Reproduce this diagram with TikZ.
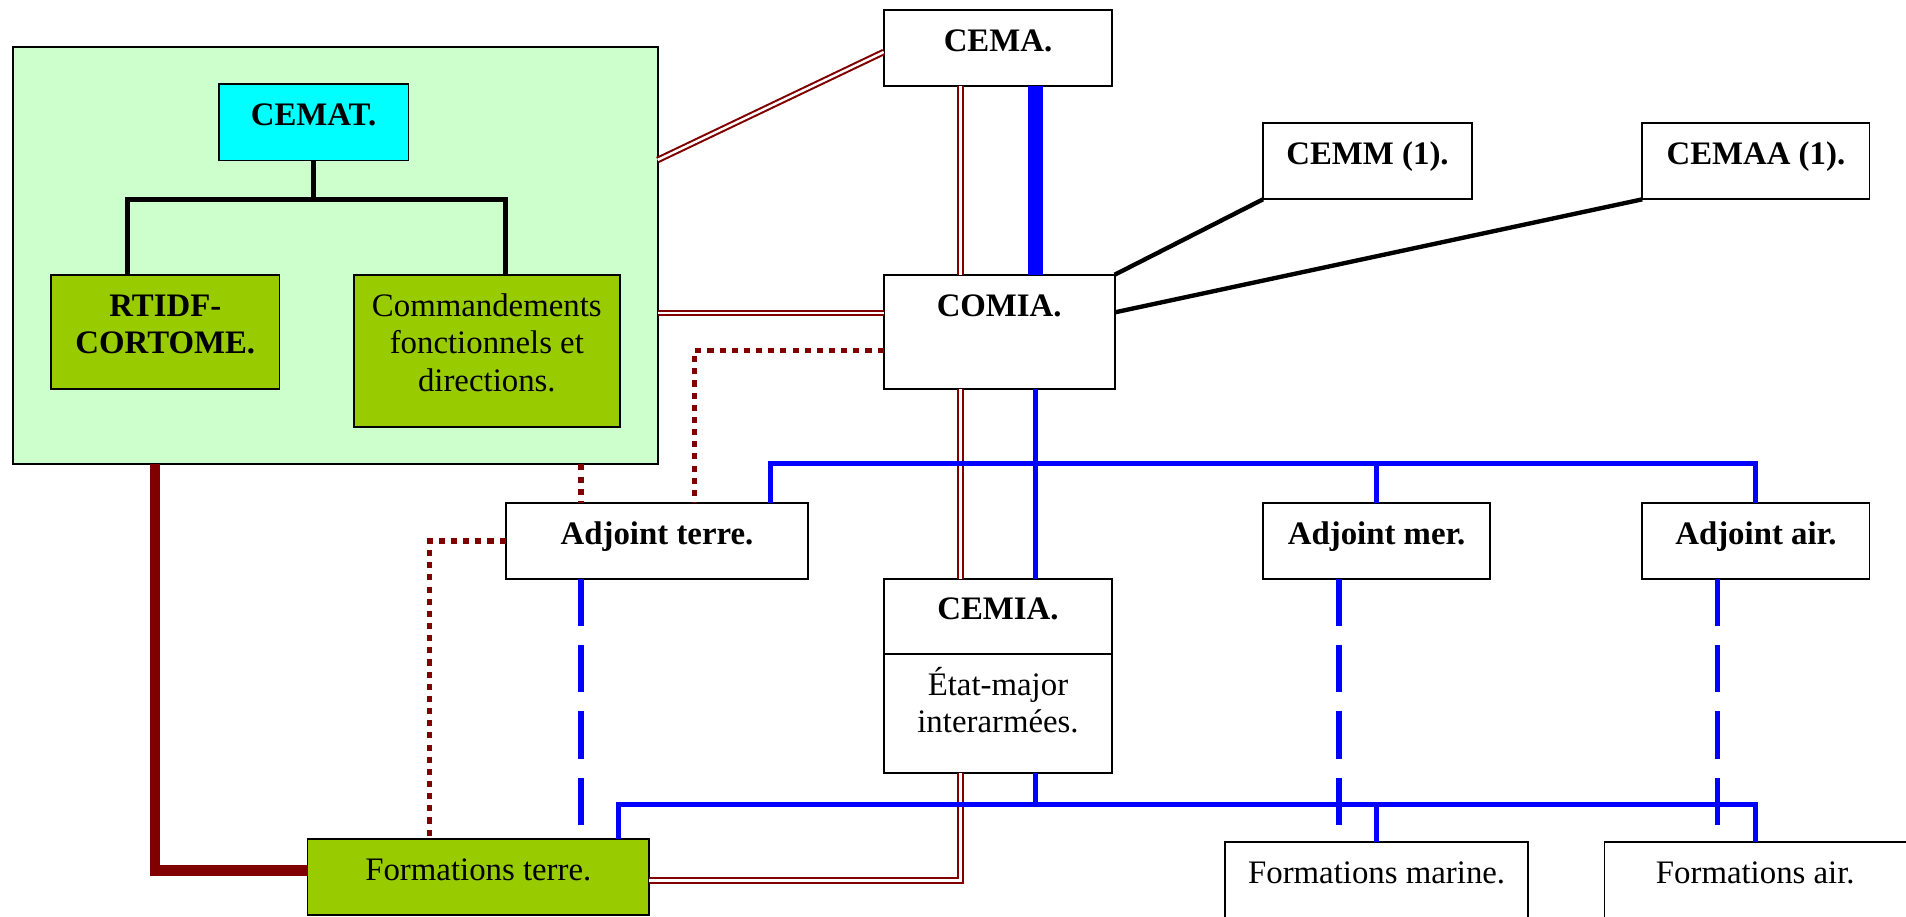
\documentclass[tikz,border=0pt]{standalone}
\usepackage{fontspec}
\setmainfont{Liberation Serif}
\definecolor{dred}{RGB}{128,0,0}
\definecolor{bigfill}{RGB}{204,255,204}
\definecolor{olive}{RGB}{153,204,0}
\definecolor{cyanbox}{RGB}{0,255,255}
\definecolor{pureblue}{RGB}{0,0,255}
\newcommand{\mystrut}{\rule{0pt}{25pt}}
\begin{document}
\begin{tikzpicture}[x=1pt,y=-1pt,
  box/.style={draw=black, line width=1.5pt, fill=white, inner sep=0pt, outer sep=0pt, anchor=north west},
  lbl/.style={inner sep=0pt, outer sep=0pt, align=center, anchor=north, font=\fontsize{27pt}{31pt}\selectfont},
  blbl/.style={lbl, font=\fontsize{27pt}{31pt}\selectfont\bfseries},
  dbl/.style={draw=dred, line width=1.7pt, double=white, double distance=2pt, line join=miter},
  bthick/.style={draw=pureblue, line width=12.5pt},
  bline/.style={draw=pureblue, line width=4.2pt, line join=miter},
  bdash/.style={draw=pureblue, line width=4.2pt, dash pattern=on 39pt off 15.6pt},
  dots/.style={draw=dred, line width=4.3pt, dash pattern=on 5pt off 5pt},
  rthick/.style={draw=dred, line width=9pt, line join=miter},
  blk/.style={draw=black, line width=3.6pt},
  tree/.style={draw=black, line width=3.8pt, line join=miter}]
\useasboundingbox (0,0) rectangle (1568,754);
\clip (0,0) rectangle (1568,754);

% boxes
\node[box, fill=bigfill, minimum width=530pt, minimum height=343pt] (big) at (11,39) {};
\node[box, fill=cyanbox, minimum width=156pt, minimum height=63pt] (cemat) at (180,69) {};
\node[box, fill=olive, minimum width=188pt, minimum height=94pt] (rtidf) at (42,226) {};
\node[box, fill=olive, minimum width=219pt, minimum height=125pt] (cmd) at (291,226) {};
\node[box, minimum width=188pt, minimum height=63pt] (cema) at (727,8) {};
\node[box, minimum width=190pt, minimum height=94pt] (comia) at (727,226) {};
\node[box, minimum width=172pt, minimum height=63pt] (cemm) at (1039,101) {};
\node[box, minimum width=187pt, minimum height=63pt] (cemaa) at (1351,101) {};
\node[box, minimum width=249pt, minimum height=62pt] (adjt) at (416,414) {};
\node[box, minimum width=187pt, minimum height=62pt] (adjm) at (1039,414) {};
\node[box, minimum width=187pt, minimum height=62pt] (adja) at (1351,414) {};
\node[box, minimum width=188pt, minimum height=62pt] (cemia) at (727,476) {};
\node[box, minimum width=188pt, minimum height=98pt] (ema) at (727,538) {};
\node[box, fill=olive, minimum width=281pt, minimum height=63pt] (ft) at (253,690) {};
\node[box, minimum width=249pt, minimum height=80pt] (fm) at (1008,693) {};
\node[box, minimum width=255pt, minimum height=80pt] (fa) at (1320,693) {};

% texts
\node[blbl] (tcemat) at ([yshift=-9pt]cemat.north) {\mystrut CEMAT.};
\node[blbl] (trtidf) at ([yshift=-9pt]rtidf.north) {\mystrut RTIDF-\\CORTOME.};
\node[lbl] (tcmd) at ([yshift=-9pt]cmd.north) {\mystrut Commandements\\fonctionnels et\\directions.};
\node[blbl] (tcema) at ([yshift=-9pt]cema.north) {\mystrut CEMA.};
\node[blbl] (tcomia) at ([yshift=-9pt]comia.north) {\mystrut COMIA.};
\node[blbl] (tcemm) at ([yshift=-9pt]cemm.north) {\mystrut CEMM (1).};
\node[blbl] (tcemaa) at ([yshift=-9pt]cemaa.north) {\mystrut CEMAA (1).};
\node[blbl] (tadjt) at ([yshift=-9pt]adjt.north) {\mystrut Adjoint terre.};
\node[blbl] (tadjm) at ([yshift=-9pt]adjm.north) {\mystrut Adjoint mer.};
\node[blbl] (tadja) at ([yshift=-9pt]adja.north) {\mystrut Adjoint air.};
\node[blbl] (tcemia) at ([yshift=-9pt]cemia.north) {\mystrut CEMIA.};
\node[lbl] (tema) at ([yshift=-9pt]ema.north) {\mystrut État-major\\interarmées.};
\node[lbl] (tft) at ([yshift=-9pt]ft.north) {\mystrut Formations terre.};
\node[lbl] (tfm) at ([yshift=-9pt]fm.north) {\mystrut Formations marine.};
\node[lbl, anchor=north] (tfa) at ([yshift=-9pt]1444,693) {\mystrut Formations air.};

% tree inside big box
\coordinate (tl) at ([xshift=62.7pt]rtidf.north west);
\coordinate (tr) at ([xshift=125pt]cmd.north west);
\coordinate (bar) at ([yshift=-32pt]cemat.south);
\draw[tree] (tl) |- (bar) -| (tr);
\draw[tree] (cemat.south) -- (bar);

% double dark red lines
\draw[dbl] ([yshift=-92.6pt]big.north east) -- ([yshift=-3.3pt]cema.west);
\coordinate (c2) at ([yshift=15.5pt]comia.west);
\draw[dbl] (c2) -- (c2 -| big.east);
\coordinate (v1) at ([xshift=-31pt]cema.south);
\coordinate (c3) at ([yshift=-3pt]ft.east);
\draw[dbl] (v1) -- (v1 |- comia.north);
\draw[dbl] (v1 |- comia.south) -- (v1 |- cemia.north);
\draw[dbl] (v1 |- ema.south) |- (c3);

% thick dark red
\draw[rthick] ([xshift=116.5pt]big.south west) |- ([yshift=5pt]ft.west);

% dotted dark red
\coordinate (d1) at ([xshift=62pt]adjt.south west);
\draw[dots] (d1 |- big.south) -- (d1 |- adjt.north);
\coordinate (p3) at ([yshift=-15.5pt]comia.west);
\coordinate (q3) at ([xshift=155.5pt]adjt.north west);
\draw[dots] (p3) -| (q3);
\coordinate (q4) at ([xshift=100.5pt]ft.north west);
\draw[dots] (adjt.west) -| (q4);

% black lines
\draw[blk] (comia.north east) -- (cemm.south west);
\draw[blk] ([yshift=-31pt]comia.north east) -- (cemaa.south west);

% blue
\coordinate (v2) at ([xshift=31pt]cema.south);
\draw[bthick] (v2) -- (v2 |- comia.north);
\draw[bline] (comia.south -| v2) -- (cemia.north -| v2);
\coordinate (bL) at (634,381);
\coordinate (bR) at (1444.5,381);
\draw[bline] (adjt.north -| bL) -- (bL) -- (bR) -- (adja.north);
\draw[bline] (adjm.north) -- (adjm.north |- bL);
\coordinate (cL) at (509,662);
\coordinate (cR) at (1444.5,662);
\draw[bline] (ft.north -| cL) -- (cL) -- (cR) -- (fa.north -| cR);
\draw[bline] (ema.south -| v2) -- (v2 |- cL);
\draw[bline] (fm.north -| adjm.north) -- (adjm.north |- cL);

% dashed blue
\draw[bdash] (d1) -- (d1 |- ft.north);
\coordinate (d2) at ([xshift=62.5pt]adjm.south west);
\draw[bdash] (d2) -- (d2 |- fm.north);
\coordinate (d3) at ([xshift=62pt]adja.south west);
\draw[bdash] (d3) -- (d3 |- fa.north);
\end{tikzpicture}
\end{document}
